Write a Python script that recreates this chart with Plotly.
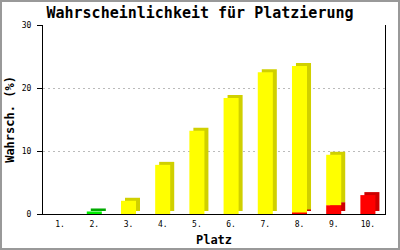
import numpy as np
import plotly.graph_objects as go

platz = ["1.", "2.", "3.", "4.", "5.", "6.", "7.", "8.", "9.", "10."]
rot = [0, 0, 0, 0, 0, 0, 0, 0.25, 1.4, 3.0]
gruen = [0, 0.4, 0, 0, 0, 0, 0, 0, 0, 0]
gelb = [0, 0, 2.1, 7.8, 13.2, 18.4, 22.5, 23.25, 8.0, 0]
y_ticks = [0, 10, 20, 30]

series = [(rot, "#FF0000", "#CC0000"),
          (gruen, "#00EE00", "#00AA00"),
          (gelb, "#FFFF00", "#D0D000")]

W, H = 400, 250
ml, mr, mt, mb = 43, 15, 25, 36
pw, ph = W - ml - mr, H - mt - mb
ymax = 30
bar_w = 0.44
dx = 4 / (pw / len(platz))      # 4px depth to the right (category units)
dy = 3 / (ph / ymax)            # 3px depth upwards (value units)

fig = go.Figure()
bases = []
b = np.zeros(len(platz))
for vals, _, _ in series:
    bases.append(b.copy())
    b = b + np.array(vals)

# shadow (depth) faces first
for (vals, c, dc), base in zip(series, bases):
    fig.add_bar(x=platz, y=vals, base=base + dy, width=bar_w,
                offset=-bar_w / 2 + dx, marker=dict(color=dc, line=dict(width=0)),
                hoverinfo="skip")
# front faces
for (vals, c, dc), base in zip(series, bases):
    fig.add_bar(x=platz, y=vals, base=base, width=bar_w,
                offset=-bar_w / 2, marker=dict(color=c, line=dict(width=0)))

fig.update_layout(
    width=W, height=H, barmode="overlay", showlegend=False,
    margin=dict(l=ml, r=mr, t=mt, b=mb),
    paper_bgcolor="white", plot_bgcolor="white",
    font=dict(family="DejaVu Sans Mono", color="black"),
    title=dict(text="<b>Wahrscheinlichkeit für Platzierung</b>",
               font=dict(size=15, family="DejaVu Sans Mono"),
               x=0.5, xanchor="center", y=1 - 13 / H, yanchor="middle"),
    xaxis=dict(type="category", range=[-0.5, len(platz) - 0.5], automargin=False,
               showline=True, linecolor="black", linewidth=1, ticks="",
               showgrid=False, tickfont=dict(size=8), ticklabelstandoff=2,
               title=dict(text="<b>Platz</b>", font=dict(size=12), standoff=8)),
    yaxis=dict(range=[0, ymax], tickvals=y_ticks, showline=True, mirror=True,
               automargin=False,
               linecolor="black", linewidth=1, ticks="outside", ticklen=5,
               tickcolor="black", tickfont=dict(size=8), zeroline=False,
               ticklabelstandoff=4,
               showgrid=True, gridcolor="#BBBBBB", griddash="2px,3px", gridwidth=1,
               title=dict(text="<b>Wahrsch. (%)</b>", font=dict(size=12), standoff=4)),
    shapes=[dict(type="rect", xref="paper", yref="paper",
                 x0=(-ml + 1) / pw, x1=1 + (mr - 1) / pw,
                 y0=(-mb + 1) / ph, y1=1 + (mt - 1) / ph,
                 line=dict(color="#999999", width=2), layer="below")],
)
fig.write_html("out.html")
